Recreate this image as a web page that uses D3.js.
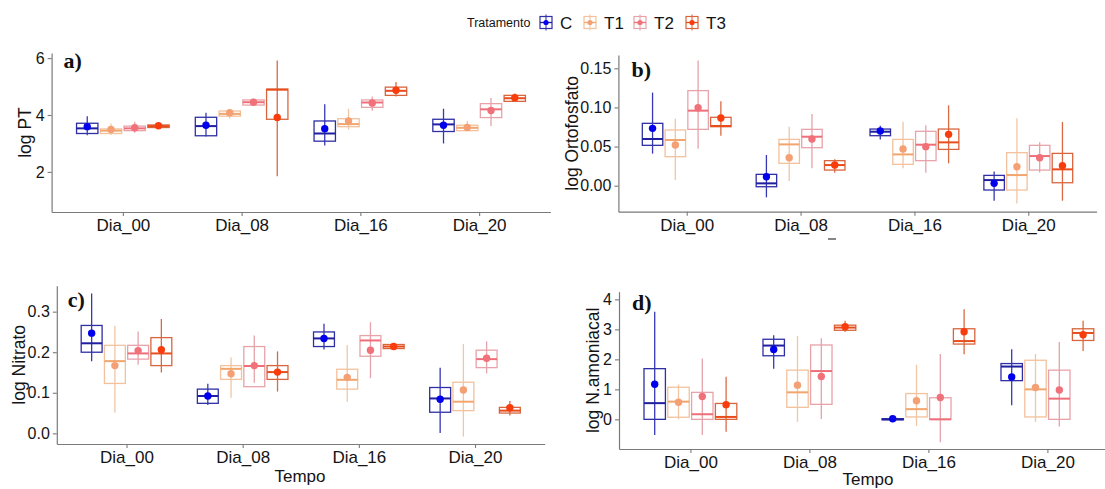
<!DOCTYPE html>
<html>
<head>
<meta charset="utf-8">
<script src="https://cdn.jsdelivr.net/npm/d3@7"></script>
<style>
  body { margin: 0; background: #fff; }
  svg { display: block; font-family: "Liberation Sans", Arial, sans-serif; }
</style>
</head>
<body>
<svg id="chart" width="1105" height="489"></svg>
<script>
// categories
const days = ["Dia_00", "Dia_08", "Dia_16", "Dia_20"];
const treatments = ["C", "T1", "T2", "T3"];

// rows = days, columns = C, T1, T2, T3
// a) log PT
const ptQ1   = [[3.35, 3.35, 3.45, 3.56], [3.27, 3.96, 4.35, 3.85], [3.08, 3.59, 4.27, 4.69], [3.42, 3.45, 3.91, 4.48]];
const ptMed  = [[3.53, 3.45, 3.53, 3.61], [3.61, 4.04, 4.45, 4.89], [3.35, 3.68, 4.44, 4.85], [3.67, 3.55, 4.20, 4.59]];
const ptQ3   = [[3.71, 3.51, 3.61, 3.65], [3.92, 4.14, 4.53, 4.91], [3.79, 3.87, 4.53, 4.98], [3.85, 3.64, 4.40, 4.69]];
const ptMean = [[3.59, 3.49, 3.55, 3.62], [3.64, 4.08, 4.45, 3.91], [3.52, 3.79, 4.42, 4.87], [3.64, 3.56, 4.16, 4.61]];
const ptLo   = [[3.29, 3.30, 3.38, 3.52], [3.24, 3.88, 4.32, 1.85], [2.93, 3.49, 4.15, 4.65], [3.00, 3.47, 3.61, 4.47]];
const ptHi   = [[3.96, 3.70, 3.76, 3.68], [4.08, 4.20, 4.58, 5.92], [4.38, 4.22, 4.65, 5.16], [4.22, 3.79, 4.60, 4.76]];

// b) log Ortofosfato
const ofQ1   = [[0.0516, 0.0371, 0.0720, 0.0754], [-0.0013, 0.0286, 0.0486, 0.0200], [0.0639, 0.0273, 0.0320, 0.0464], [-0.0055, -0.0055, 0.0200, 0.0038]];
const ofMed  = [[0.0597, 0.0584, 0.0959, 0.0763], [0.0030, 0.0528, 0.0626, 0.0264], [0.0690, 0.0400, 0.0524, 0.0554], [0.0072, 0.0136, 0.0379, 0.0209]];
const ofQ3   = [[0.0797, 0.0712, 0.1215, 0.0874], [0.0145, 0.0592, 0.0720, 0.0320], [0.0724, 0.0592, 0.0695, 0.0724], [0.0132, 0.0422, 0.0516, 0.0413]];
const ofMean = [[0.0733, 0.0520, 0.0997, 0.0865], [0.0115, 0.0358, 0.0597, 0.0264], [0.0699, 0.0469, 0.0499, 0.0656], [0.0030, 0.0243, 0.0358, 0.0256]];
const ofLo   = [[0.0410, 0.0072, 0.0473, 0.0639], [-0.0149, 0.0060, 0.0222, 0.0166], [0.0592, 0.0222, 0.0166, 0.0286], [-0.0192, -0.0226, 0.0170, -0.0192]];
const ofHi   = [[0.1190, 0.0857, 0.1600, 0.1078], [0.0392, 0.0754, 0.0916, 0.0337], [0.0767, 0.0818, 0.0771, 0.1027], [0.0183, 0.0861, 0.0554, 0.0814]];

// c) log Nitrato
const niQ1   = [[0.200, 0.123, 0.183, 0.167], [0.074, 0.133, 0.115, 0.133], [0.214, 0.109, 0.190, 0.209], [0.052, 0.056, 0.162, 0.050]];
const niMed  = [[0.222, 0.178, 0.197, 0.197], [0.092, 0.159, 0.166, 0.151], [0.234, 0.132, 0.229, 0.214], [0.086, 0.078, 0.183, 0.056]];
const niQ3   = [[0.266, 0.217, 0.217, 0.236], [0.109, 0.167, 0.214, 0.167], [0.250, 0.158, 0.241, 0.219], [0.113, 0.126, 0.205, 0.064]];
const niMean = [[0.247, 0.167, 0.204, 0.206], [0.092, 0.147, 0.167, 0.151], [0.234, 0.138, 0.205, 0.214], [0.084, 0.107, 0.185, 0.063]];
const niLo   = [[0.178, 0.051, 0.169, 0.150], [0.070, 0.088, 0.125, 0.103], [0.207, 0.078, 0.136, 0.206], [0.001, -0.008, 0.148, 0.044]];
const niHi   = [[0.345, 0.265, 0.251, 0.282], [0.122, 0.187, 0.241, 0.202], [0.270, 0.218, 0.274, 0.220], [0.162, 0.220, 0.227, 0.080]];

// d) log N.amoniacal
const naQ1   = [[0.00, 0.07, 0.00, 0.00], [2.12, 0.40, 0.50, 2.97], [-0.01, 0.08, 0.00, 2.51], [1.29, 0.08, 0.00, 2.63]];
const naMed  = [[0.54, 0.59, 0.17, 0.08], [2.46, 0.90, 1.61, 3.06], [0.00, 0.34, 0.00, 2.61], [1.76, 1.00, 0.69, 2.88]];
const naQ3   = [[1.69, 1.07, 0.90, 0.53], [2.67, 1.64, 2.48, 3.14], [0.02, 0.86, 0.72, 3.02], [1.86, 1.97, 1.64, 3.02]];
const naMean = [[1.17, 0.57, 0.76, 0.49], [2.33, 1.14, 1.43, 3.09], [0.02, 0.62, 0.73, 2.92], [1.41, 1.06, 0.98, 2.82]];
const naLo   = [[-0.52, 0.00, -0.52, -0.41], [1.69, -0.08, 0.01, 2.91], [-0.01, -0.22, -0.76, 2.17], [0.47, -0.09, -0.24, 2.28]];
const naHi   = [[3.59, 1.16, 2.03, 1.42], [2.80, 2.78, 2.70, 3.29], [0.03, 1.82, 2.18, 3.67], [2.34, 2.18, 2.58, 3.29]];

// colours per treatment
const boxColor    = {C: "#2f2fa6", T1: "#f3c19c", T2: "#e8a3aa", T3: "#d9653e"};
const medianColor = {C: "#1f1fa0", T1: "#f2a56c", T2: "#ee6f79", T3: "#e84d1c"};
const pointColor  = {C: "#0000ee", T1: "#f4a074", T2: "#f0717a", T3: "#f83c0c"};
const lineColor   = {C: "#3737b4", T1: "#f0c6a4", T2: "#e6a2aa", T3: "#da6a44"};

const svg = d3.select("#chart");
const axisGrey = "#7a7a7a";
const textColor = "#141414";

function drawPanel(p) {
  const g = svg.append("g");

  const x = d3.scalePoint().domain(days).range([p.left, p.right]).padding(0.6);
  const step = x.step();
  const dodge = d3.scaleBand().domain(treatments).range([-0.4 * step, 0.4 * step]);
  const boxW = dodge.bandwidth() * 0.9;

  const y = d3.scaleLinear().domain(p.domain).range([p.bottom, p.top]);

  // axes
  const xAxis = g.append("g")
    .attr("transform", `translate(0,${p.bottom})`)
    .call(d3.axisBottom(x).tickSize(4).tickPadding(3).tickSizeOuter(0));
  const yAxis = g.append("g")
    .attr("transform", `translate(${p.left},0)`)
    .call(d3.axisLeft(y).tickValues(p.ticks).tickFormat(p.fmt).tickSize(4).tickPadding(3).tickSizeOuter(0));

  [xAxis, yAxis].forEach(a => {
    a.select(".domain").attr("stroke", axisGrey).attr("stroke-width", 1.2);
    a.selectAll(".tick line").attr("stroke", axisGrey).attr("stroke-width", 1.1);
    a.selectAll(".tick text")
      .attr("fill", textColor)
      .style("font-family", "'Liberation Sans', Arial, sans-serif");
  });
  xAxis.selectAll(".tick text").style("font-size", "17px");
  yAxis.selectAll(".tick text").style("font-size", "16px");

  // y-axis title
  g.append("text")
    .attr("transform", `translate(${p.titleX},${(p.top + p.bottom) / 2}) rotate(-90)`)
    .attr("text-anchor", "middle")
    .attr("fill", textColor)
    .style("font-size", "17.5px")
    .text(p.title);

  // panel letter
  g.append("text")
    .attr("x", p.left + p.letterDx)
    .attr("y", p.top + p.letterDy)
    .attr("fill", "#111")
    .style("font-family", "'Liberation Serif', 'Times New Roman', serif")
    .style("font-weight", "bold")
    .style("font-size", "22px")
    .text(p.letter);

  // boxes
  days.forEach((day, i) => {
    treatments.forEach((t, j) => {
      const cx = x(day) + dodge(t) + dodge.bandwidth() / 2;

      g.append("rect")
        .attr("x", cx - boxW / 2)
        .attr("y", y(p.q3[i][j]))
        .attr("width", boxW)
        .attr("height", Math.max(1, y(p.q1[i][j]) - y(p.q3[i][j])))
        .attr("fill", "none")
        .attr("stroke", boxColor[t])
        .attr("stroke-width", 1.3);

      // mean +- error line
      g.append("line")
        .attr("x1", cx).attr("x2", cx)
        .attr("y1", y(p.lo[i][j]))
        .attr("y2", y(p.hi[i][j]))
        .attr("stroke", lineColor[t])
        .attr("stroke-width", 1.3);

      // median
      g.append("line")
        .attr("x1", cx - boxW / 2).attr("x2", cx + boxW / 2)
        .attr("y1", y(p.med[i][j])).attr("y2", y(p.med[i][j]))
        .attr("stroke", medianColor[t])
        .attr("stroke-width", 2);

      // mean point
      g.append("circle")
        .attr("cx", cx)
        .attr("cy", y(p.mean[i][j]))
        .attr("r", 3.7)
        .attr("fill", pointColor[t]);
    });
  });
}

const panels = [
  {letter: "a)", title: "log PT", left: 51.6, right: 550.4, top: 53, bottom: 212,
   domain: [0.59, 6.18], ticks: [2, 4, 6], fmt: d3.format("d"), titleX: 31, letterDx: 12, letterDy: 15,
   q1: ptQ1, med: ptMed, q3: ptQ3, mean: ptMean, lo: ptLo, hi: ptHi},
  {letter: "b)", title: "log Ortofosfato", left: 618.4, right: 1096.6, top: 55, bottom: 211.7,
   domain: [-0.0332, 0.167], ticks: [0, 0.05, 0.1, 0.15], fmt: d3.format(".2f"), titleX: 578, letterDx: 13, letterDy: 22,
   q1: ofQ1, med: ofMed, q3: ofQ3, mean: ofMean, lo: ofLo, hi: ofHi},
  {letter: "c)", title: "log Nitrato", left: 56.8, right: 544.7, top: 285.7, bottom: 444,
   domain: [-0.0263, 0.364], ticks: [0, 0.1, 0.2, 0.3], fmt: d3.format(".1f"), titleX: 25, letterDx: 11, letterDy: 21,
   q1: niQ1, med: niMed, q3: niQ3, mean: niMean, lo: niLo, hi: niHi},
  {letter: "d)", title: "log N.amoniacal", left: 619, right: 1118.8, top: 291.7, bottom: 449,
   domain: [-0.989, 4.256], ticks: [0, 1, 2, 3, 4], fmt: d3.format("d"), titleX: 599, letterDx: 13, letterDy: 18,
   q1: naQ1, med: naMed, q3: naQ3, mean: naMean, lo: naLo, hi: naHi}
];

panels.forEach(drawPanel);

// x-axis titles (cropped in the original layout)
svg.append("text").attr("x", 300).attr("y", 482).attr("text-anchor", "middle")
  .attr("fill", textColor).style("font-size", "17px").text("Tempo");
svg.append("text").attr("x", 868).attr("y", 485).attr("text-anchor", "middle")
  .attr("fill", textColor).style("font-size", "17px").text("Tempo");
svg.append("line").attr("x1", 828).attr("x2", 836).attr("y1", 239).attr("y2", 239)
  .attr("stroke", "#444").attr("stroke-width", 1.3);

// legend
const legend = svg.append("g");
legend.append("text")
  .attr("x", 467).attr("y", 27)
  .attr("fill", textColor)
  .style("font-size", "12.5px")
  .text("Tratamento");

const legendX = {C: 540, T1: 584, T2: 634, T3: 686};
treatments.forEach(t => {
  const kx = legendX[t], kcy = 22.5, k = 12;
  const key = legend.append("g");
  key.append("rect")
    .attr("x", kx).attr("y", kcy - k / 2).attr("width", k).attr("height", k)
    .attr("fill", "none").attr("stroke", boxColor[t]).attr("stroke-width", 1.2);
  key.append("line")
    .attr("x1", kx + k / 2).attr("x2", kx + k / 2).attr("y1", kcy - k / 2 - 2).attr("y2", kcy + k / 2 + 2)
    .attr("stroke", lineColor[t]).attr("stroke-width", 1.1);
  key.append("line")
    .attr("x1", kx).attr("x2", kx + k).attr("y1", kcy).attr("y2", kcy)
    .attr("stroke", medianColor[t]).attr("stroke-width", 1.3);
  key.append("circle")
    .attr("cx", kx + k / 2).attr("cy", kcy).attr("r", 2.6).attr("fill", pointColor[t]);
  legend.append("text")
    .attr("x", kx + k + 8).attr("y", 28.5)
    .attr("fill", textColor)
    .style("font-size", "17px")
    .text(t);
});
</script>
</body>
</html>
